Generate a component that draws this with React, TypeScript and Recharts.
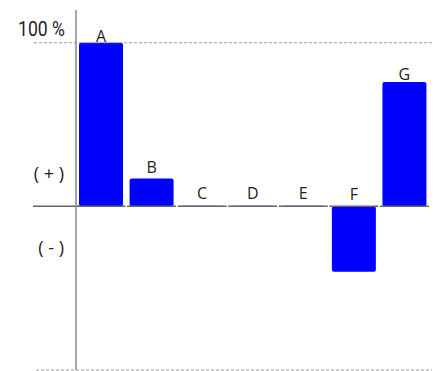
import { Bar, BarChart, LabelList, ReferenceLine, XAxis, YAxis } from "recharts";

const NAMES = ["A", "B", "C", "D", "E", "F", "G"];
const VALUES = [100, 17, 0.3, 0.3, 0.3, -40, 76];
const AXIS_TICKS = [100, 20, -25];
const AXIS_LABELS = ["100 %", "( + )", "( - )"];

const data = NAMES.map((name, i) => ({ name, value: VALUES[i] }));

const BLUE = "#0000ff";
const ZERO = "#666666";
const DASH = "#9a9a9a";
const TEXT = "#222222";
const SANS = "'Open Sans', 'Noto Sans', sans-serif";

function AxisTick(props: any) {
  const { y, payload } = props;
  const i = AXIS_TICKS.indexOf(payload.value);
  if (i < 0) return null;
  if (i === 0) {
    // condensed look of the original "100 %" label
    return (
      <text x={0} y={0} transform={`translate(65 ${y - 6.5}) scale(0.84 1)`} textAnchor="end"
        fill={TEXT} fontSize={21} fontFamily="Roboto, sans-serif">
        {AXIS_LABELS[i]}
      </text>
    );
  }
  return (
    <text x={64} y={y} dy="0.35em" textAnchor="end" fill={TEXT} fontSize={18} fontFamily={SANS}>
      {AXIS_LABELS[i]}
    </text>
  );
}

function BarShape(props: any) {
  const { x, y, width, height, payload } = props;
  const top = Math.min(y, y + height);
  const h = Math.max(Math.abs(height), 0.6);
  const zeroY = payload.value >= 0 ? top + Math.abs(height) : top;
  return (
    <g>
      <rect x={x} y={top} width={width} height={h} rx={2} ry={2} fill={BLUE} />
      <line x1={x - 2.5} x2={x + width + 2.5} y1={zeroY} y2={zeroY} stroke={ZERO} strokeWidth={1.5} />
    </g>
  );
}

function BarLabel(props: any) {
  const { x, y, width, height, index, value } = props;
  const v = VALUES[index] ?? 0;
  const top = Math.min(y, y + height);
  const gap = 6.4 - 0.054 * Math.max(v, 0);
  return (
    <text x={x + width / 2} y={top - gap} textAnchor="middle" fill={TEXT} fontSize={16} fontFamily={SANS}>
      {value}
    </text>
  );
}

const dashed = (left: number) => (p: any) => (
  <line x1={left} x2={p.x2 + 2} y1={p.y1} y2={p.y2} stroke={DASH} strokeWidth={1} strokeDasharray="3 2" />
);

const zeroStub = (p: any) => (
  <line x1={33} x2={p.x1 + 4} y1={p.y1} y2={p.y2} stroke={ZERO} strokeWidth={1.5} />
);

export default function App() {
  return (
    <div style={{ position: "absolute", left: 0, top: 0, background: "#fff" }}>
      <BarChart width={435} height={371} data={data} margin={{ top: 10, right: 5, bottom: 1, left: 0 }}>
        <XAxis dataKey="name" hide />
        <YAxis
          width={76}
          domain={[-100, 120]}
          ticks={AXIS_TICKS}
          interval={0}
          tickLine={false}
          axisLine={{ stroke: "#888888", strokeWidth: 1.5 }}
          tick={<AxisTick />}
        />
        <ReferenceLine y={100} shape={dashed(34)} />
        <ReferenceLine y={-100} shape={dashed(36)} />
        <ReferenceLine y={0} shape={zeroStub} />
        <Bar dataKey="value" barSize={44} shape={<BarShape />} isAnimationActive={false}>
          <LabelList dataKey="name" content={<BarLabel />} />
        </Bar>
      </BarChart>
    </div>
  );
}
